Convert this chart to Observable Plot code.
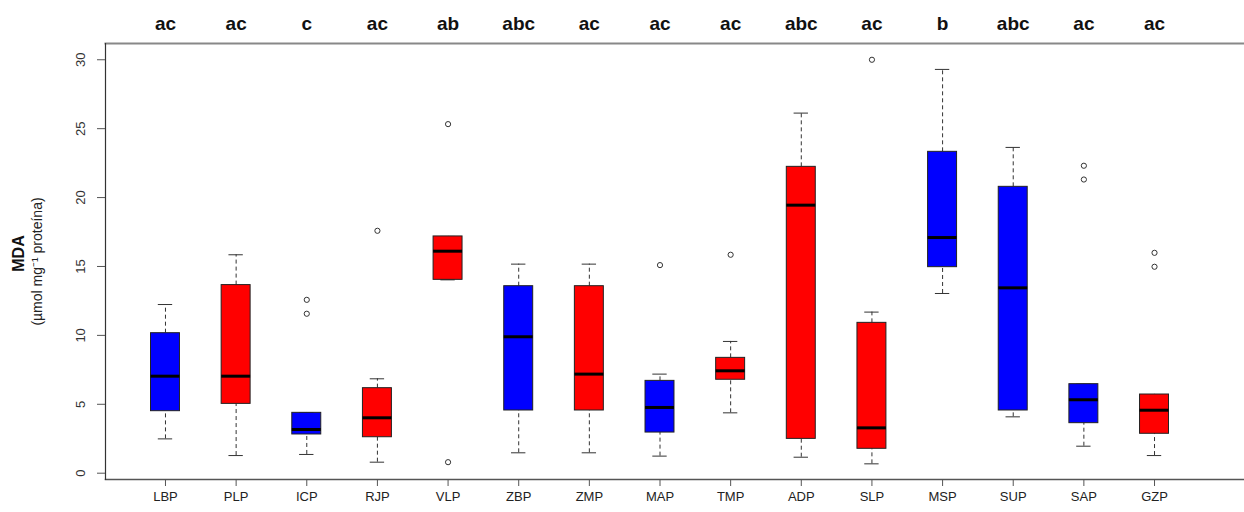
<!DOCTYPE html>
<html><head><meta charset="utf-8">
<script src="https://cdn.jsdelivr.net/npm/d3@7"></script>
<script src="https://cdn.jsdelivr.net/npm/@observablehq/plot@0.6"></script>
<style>body{margin:0;background:#fff}</style>
</head><body><div id="chart"></div>
<script>
const categories = ["LBP","PLP","ICP","RJP","VLP","ZBP","ZMP","MAP","TMP","ADP","SLP","MSP","SUP","SAP","GZP"];
const letters = ["ac","ac","c","ac","ab","abc","ac","ac","ac","abc","ac","b","abc","ac","ac"];
const boxColors = ["#0000FF","#FF0000","#0000FF","#FF0000","#FF0000","#0000FF","#FF0000","#0000FF","#FF0000","#FF0000","#FF0000","#0000FF","#0000FF","#0000FF","#FF0000"];
const lowWhisker  = [2.49,1.28,1.36,0.80,14.03,1.48,1.48,1.24,4.38,1.16,0.68,13.04,4.09,1.96,1.28];
const q1          = [4.50,5.03,2.81,2.61,14.03,4.55,4.55,2.95,6.78,2.49,1.77,14.95,4.55,3.63,2.86];
const median      = [7.04,7.04,3.17,4.02,16.11,9.90,7.19,4.77,7.43,19.45,3.29,17.10,13.45,5.33,4.57];
const q3          = [10.16,13.65,4.38,6.17,17.18,13.57,13.57,6.70,8.37,22.23,10.91,23.32,20.78,6.46,5.71];
const highWhisker = [12.24,15.85,4.38,6.85,17.18,15.17,15.17,7.19,9.56,26.13,11.69,29.30,23.64,6.46,5.71];
const outlierGroups = ["ICP","ICP","RJP","VLP","VLP","MAP","TMP","SLP","SAP","SAP","GZP","GZP"];
const outlierValues = [12.58,11.57,17.59,25.33,0.80,15.10,15.85,30.0,22.31,21.31,15.99,14.98];
const yTicks = [0,5,10,15,20,25,30];

const boxes = categories.map((c,i)=>({cat:c, letter:letters[i], color:boxColors[i], lo:lowWhisker[i], q1:q1[i], med:median[i], q3:q3[i], hi:highWhisker[i]}));
const outliers = outlierGroups.map((c,i)=>({cat:c, value:outlierValues[i]}));
const font = "'Liberation Sans', Arial, Helvetica, sans-serif";

const chart = Plot.plot({
  width:1244, height:512, marginLeft:105, marginRight:0, marginTop:43, marginBottom:33,
  style:{fontFamily:font, background:"#fff", color:"#222"},
  x:{domain:categories, range:[150.5,1168.5], paddingInner:0.59, paddingOuter:0, round:false, axis:null},
  y:{domain:[-0.457,31.18], axis:null},
  color:{type:"identity"},
  marks:[
    Plot.frame({anchor:"top", stroke:"#888", strokeWidth:2}),
    Plot.frame({anchor:"bottom", stroke:"#555", strokeWidth:1.5}),
    Plot.frame({anchor:"left", stroke:"#333", strokeWidth:1.2}),
    Plot.axisY({ticks:yTicks, tickSize:8, tickRotate:-90, fontSize:13, tickPadding:13, stroke:"#555", fill:"#333", label:null}),
    Plot.axisX({tickSize:7, fontSize:13, tickPadding:5, stroke:"#555", fill:"#222", label:null}),
    Plot.ruleX(boxes, {x:"cat", y1:"q3", y2:"hi", stroke:"#333", strokeDasharray:"4,3"}),
    Plot.ruleX(boxes, {x:"cat", y1:"lo", y2:"q1", stroke:"#333", strokeDasharray:"4,3"}),
    Plot.tickY(boxes, {x:"cat", y:"hi", stroke:"#333", insetLeft:7.3, insetRight:7.3}),
    Plot.tickY(boxes, {x:"cat", y:"lo", stroke:"#333", insetLeft:7.3, insetRight:7.3}),
    Plot.barY(boxes, {x:"cat", y1:"q1", y2:"q3", fill:"color", stroke:"#222", strokeWidth:1}),
    Plot.tickY(boxes, {x:"cat", y:"med", stroke:"#000", strokeWidth:3}),
    Plot.dot(outliers, {x:"cat", y:"value", r:2.6, stroke:"#333", fill:"white", strokeWidth:1}),
    Plot.text(boxes, {x:"cat", text:"letter", frameAnchor:"top", lineAnchor:"bottom", dy:-14, fontSize:19, fontWeight:"bold", fill:"#111"}),
    Plot.text(["MDA"], {frameAnchor:"left", textAnchor:"middle", dx:-87, dy:-8, rotate:-90, fontSize:16, fontWeight:"bold", fill:"#111"}),
    Plot.text(["(µmol mg⁻¹ proteína)"], {frameAnchor:"left", textAnchor:"middle", dx:-68, rotate:-90, fontSize:14, fill:"#222"})
  ]
});
document.getElementById("chart").append(chart);
</script>
</body></html>
